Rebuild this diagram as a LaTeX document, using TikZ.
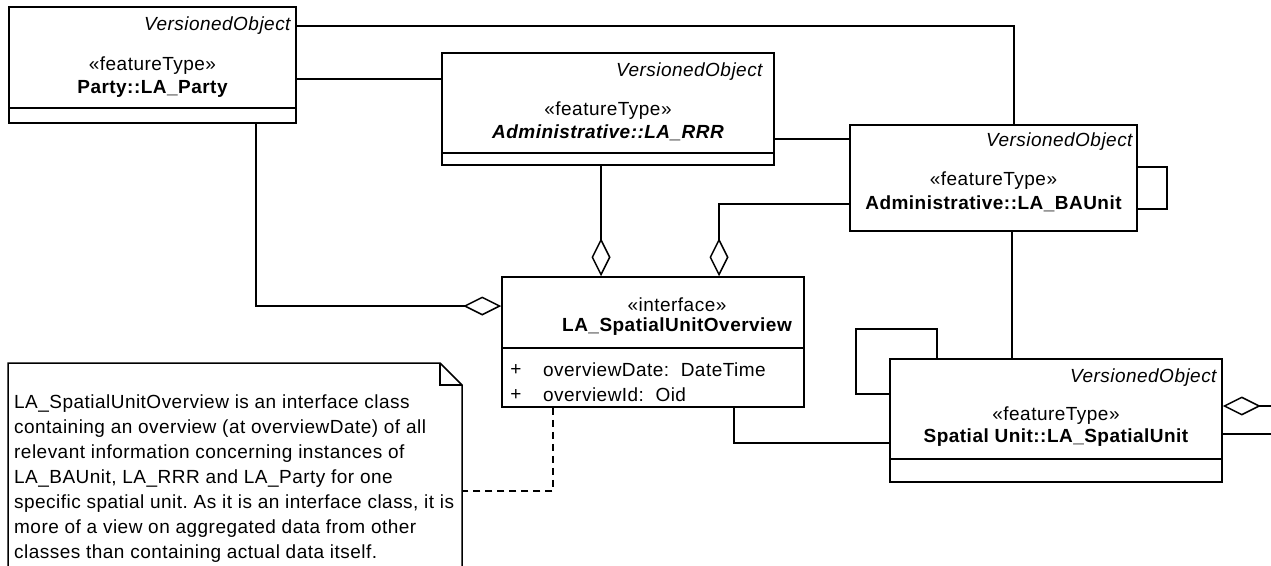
\documentclass[tikz,border=0pt]{standalone}
\usepackage{fontspec}
\setmainfont[LetterSpace=2.5]{Liberation Sans}
\usetikzlibrary{arrows.meta, calc}
\frenchspacing
\tikzstyle{umlclass} = [rectangle, draw, line width=1.5pt, fill=white, inner sep=0pt]
\tikzstyle{lbl} = [inner sep=0pt, font=\fontsize{19}{23}\selectfont]
\tikzstyle{vobj} = [lbl, font=\fontsize{19}{23}\selectfont\itshape, anchor=east]
\tikzstyle{cname} = [lbl, font=\fontsize{19}{23}\selectfont\bfseries]
\tikzstyle{attr} = [lbl, anchor=west]
\tikzstyle{notetext} = [inner sep=0pt, align=left, anchor=north west, font=\fontsize{19}{25}\selectfont]
\tikzstyle{link} = [line width=1.5pt]
\tikzstyle{agg} = [link, -{Diamond[open, length=38pt, width=19pt]}]
\tikzstyle{notelink} = [link, dash pattern=on 7pt off 5pt]

\begin{document}
\begin{tikzpicture}[x=1pt, y=-1pt]
\useasboundingbox (0,0) rectangle (1271,565);
\clip (0,0) rectangle (1271,565);

% class boxes
\node[umlclass, minimum width=287pt, minimum height=116pt] (party) at (152.5,65) {};
\node[umlclass, minimum width=332pt, minimum height=112pt] (rrr) at (608,109) {};
\node[umlclass, minimum width=287pt, minimum height=106pt] (baunit) at (993.5,178) {};
\node[umlclass, minimum width=302pt, minimum height=130pt] (iface) at (653,342) {};
\node[umlclass, minimum width=332pt, minimum height=123pt] (spatial) at (1056,420.5) {};

\draw[link] (party.west |- 0,108) -- (party.east |- 0,108);
\draw[link] (rrr.west |- 0,153) -- (rrr.east |- 0,153);
\draw[link] (iface.west |- 0,348) -- (iface.east |- 0,348);
\draw[link] (spatial.west |- 0,459) -- (spatial.east |- 0,459);

% class texts
\node[vobj] (partyvo) at ($(party.north east)+(-6,19)$) {VersionedObject};
\node[lbl] (partyst) at (152.5,66) {«featureType»};
\node[cname] (partynm) at (152.5,89) {Party::LA\_Party};

\node[vobj] (rrrvo) at ($(rrr.north east)+(-12,19)$) {VersionedObject};
\node[lbl] (rrrst) at (608,111) {«featureType»};
\node[cname, font=\fontsize{19}{23}\selectfont\bfseries\itshape] (rrrnm) at (608,133) {Administrative::LA\_RRR};

\node[vobj] (bauvo) at ($(baunit.north east)+(-5,17)$) {VersionedObject};
\node[lbl] (baust) at (993.5,181) {«featureType»};
\node[cname] (baunm) at (993.5,204) {Administrative::LA\_BAUnit};

\node[lbl] (ifacest) at (677,305) {«interface»};
\node[cname] (ifacenm) at (677,327) {LA\_SpatialUnitOverview};
\node[lbl] (plus1) at (516,370) {+};
\node[attr] (attr1) at (543,370) {overviewDate:\ \ DateTime};
\node[lbl] (plus2) at (516,395) {+};
\node[attr] (attr2) at (543,395) {overviewId:\ \ Oid};

\node[vobj] (spvo) at ($(spatial.north east)+(-6,19)$) {VersionedObject};
\node[lbl] (spst) at (1056,416) {«featureType»};
\node[cname] (spnm) at (1056,438) {Spatial Unit::LA\_SpatialUnit};

% note
\coordinate (nbl) at (8,570);
\coordinate (ntl) at (8,363);
\coordinate (nfold) at (440,363);
\coordinate (nfoldb) at (462,385);
\coordinate (nbr) at (462,570);
\coordinate (noteE) at (462,491);
\draw[link] (nbl) -- (ntl) -- (nfold) -- (nfoldb) -- (nbr);
\draw[link] (nfold) |- (nfoldb);
\node[notetext] (note) at (14,395) {LA\_SpatialUnitOverview is an interface class\\
containing an overview (at overviewDate) of all\\
relevant information concerning instances of\\
LA\_BAUnit, LA\_RRR and LA\_Party for one\\
specific spatial unit. As it is an interface class, it is\\
more of a view on aggregated data from other\\
classes than containing actual data itself.};

% connectors
\coordinate (offA) at (1271,406);
\coordinate (offB) at (1271,434);
\draw[link] (party.east |- 0,26) -| (baunit.north -| 1014,0);
\draw[link] (party.east |- 0,79) -- (rrr.west |- 0,79);
\draw[agg] (party.south -| 256,0) |- (iface.west |- 0,306);
\draw[agg] (rrr.south -| 601,0) -- (iface.north -| 601,0);
\draw[agg] (baunit.west |- 0,204) -| (iface.north -| 719,0);
\draw[link] (rrr.east |- 0,139) -- (baunit.west |- 0,139);
\draw[link] (baunit.east |- 0,167) -- (1167,167) -- (1167,209) -- (baunit.east |- 0,209);
\draw[link] (baunit.south -| 1012,0) -- (spatial.north -| 1012,0);
\draw[link] (spatial.north -| 937,0) -- (937,329) -- (856,329) -- (856,394) -- (spatial.west |- 0,394);
\draw[link] (iface.south -| 734,0) |- (spatial.west |- 0,443);
\draw[agg] (offA) -- (spatial.east |- offA);
\draw[link] (offB) -- (spatial.east |- offB);
\draw[notelink] (iface.south -| 553,0) |- (noteE);
\end{tikzpicture}
\end{document}
